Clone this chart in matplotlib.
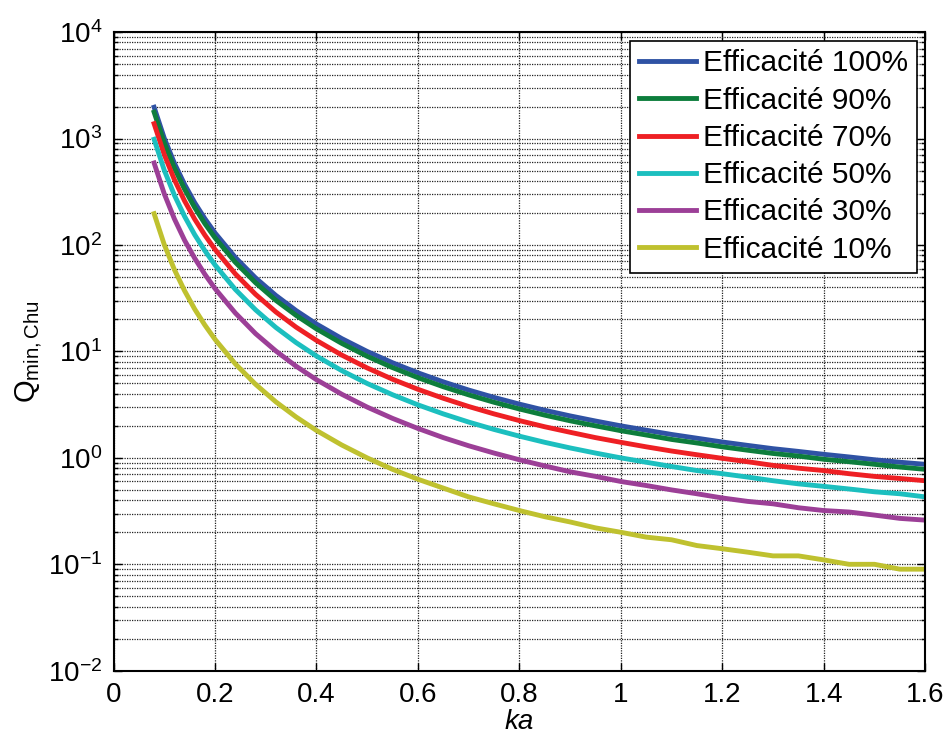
import math
import matplotlib
matplotlib.use("Agg")
import matplotlib.pyplot as plt
from matplotlib.ticker import LogLocator, FixedLocator, FuncFormatter, NullFormatter

plt.rcParams['font.family'] = ['Liberation Sans', 'DejaVu Sans']
plt.rcParams['mathtext.fontset'] = 'custom'
plt.rcParams['mathtext.rm'] = 'Liberation Sans'
plt.rcParams['mathtext.it'] = 'Liberation Sans:italic'
plt.rcParams['mathtext.bf'] = 'Liberation Sans:bold'

ka = [0.08, 0.10, 0.12, 0.14, 0.16, 0.18, 0.20, 0.24, 0.28, 0.32, 0.36, 0.40,
      0.45, 0.50, 0.55, 0.60, 0.65, 0.70, 0.75, 0.80, 0.85, 0.90, 0.95, 1.00,
      1.05, 1.10, 1.15, 1.20, 1.25, 1.30, 1.35, 1.40, 1.45, 1.50, 1.55, 1.60]

q100 = [1970, 1010, 587, 372, 250, 177, 130, 76.5, 49.1, 33.6, 24.2, 18.1,
        13.2, 10.0, 7.83, 6.30, 5.18, 4.34, 3.70, 3.20, 2.80, 2.48, 2.22, 2.00,
        1.82, 1.66, 1.53, 1.41, 1.31, 1.22, 1.15, 1.08, 1.02, 0.96, 0.91, 0.87]
q90 = [1770, 909, 528, 335, 225, 159, 117, 68.9, 44.2, 30.2, 21.8, 16.3,
       11.9, 9.0, 7.05, 5.67, 4.66, 3.91, 3.33, 2.88, 2.52, 2.23, 2.00, 1.80,
       1.64, 1.49, 1.38, 1.27, 1.18, 1.10, 1.04, 0.97, 0.92, 0.87, 0.82, 0.78]
q70 = [1380, 707, 411, 260, 175, 124, 91, 53.6, 34.4, 23.5, 16.9, 12.7,
       9.24, 7.0, 5.48, 4.41, 3.63, 3.04, 2.59, 2.24, 1.96, 1.74, 1.55, 1.40,
       1.27, 1.16, 1.07, 0.99, 0.92, 0.85, 0.80, 0.76, 0.71, 0.67, 0.64, 0.61]
q50 = [985, 505, 294, 186, 125, 88.5, 65, 38.3, 24.6, 16.8, 12.1, 9.05,
       6.6, 5.0, 3.92, 3.15, 2.59, 2.17, 1.85, 1.60, 1.40, 1.24, 1.11, 1.00,
       0.91, 0.83, 0.76, 0.71, 0.66, 0.61, 0.57, 0.54, 0.51, 0.48, 0.46, 0.43]
q30 = [590, 303, 176, 111, 75.1, 53.1, 39, 23.0, 14.7, 10.1, 7.26, 5.43,
       3.96, 3.0, 2.35, 1.89, 1.55, 1.30, 1.11, 0.96, 0.84, 0.74, 0.67, 0.60,
       0.55, 0.50, 0.46, 0.42, 0.39, 0.37, 0.34, 0.32, 0.31, 0.29, 0.27, 0.26]
q10 = [197, 101, 58.7, 37.2, 25.0, 17.7, 13.0, 7.65, 4.91, 3.36, 2.42, 1.81,
       1.32, 1.00, 0.78, 0.63, 0.52, 0.43, 0.37, 0.32, 0.28, 0.25, 0.22, 0.20,
       0.18, 0.17, 0.15, 0.14, 0.13, 0.12, 0.12, 0.11, 0.10, 0.10, 0.09, 0.09]

labels = ["Efficacité 100%", "Efficacité 90%", "Efficacité 70%",
          "Efficacité 50%", "Efficacité 30%", "Efficacité 10%"]
series = [q100, q90, q70, q50, q30, q10]
colors = ["#2f52a4", "#0d7d3c", "#ee2024", "#1cbfbf", "#9c3f97", "#bfc12f"]

xticks = [0, 0.2, 0.4, 0.6, 0.8, 1.0, 1.2, 1.4, 1.6]

fig = plt.figure(figsize=(9.46, 7.34), dpi=100)
ax = fig.add_axes([0.120, 0.0862, 0.858, 0.870])

for y, c, lab in zip(series, colors, labels):
    ax.plot(ka, y, color=c, lw=3.5, label=lab, solid_joinstyle='round')

ax.set_yscale('log')
ax.set_xlim(0, 1.6)
ax.set_ylim(1e-2, 1e4)
ax.xaxis.set_major_locator(FixedLocator(xticks))
ax.xaxis.set_major_formatter(FuncFormatter(lambda v, p: '%g' % v))
ax.yaxis.set_major_locator(LogLocator(base=10, numticks=20))
ax.yaxis.set_minor_locator(LogLocator(base=10, subs=range(2, 10), numticks=20))
ax.yaxis.set_minor_formatter(NullFormatter())
ax.yaxis.set_major_formatter(FuncFormatter(
    lambda v, p: r'$\mathregular{10^{%d}}$' % round(math.log10(v))))
ax.xaxis.offsetText.set_visible(False)
ax.yaxis.offsetText.set_visible(False)

gstyle = dict(color='#222222', linestyle=(0, (1, 1)), linewidth=0.9)
ax.grid(True, which='major', axis='both', **gstyle)
ax.grid(True, which='minor', axis='y', **gstyle)

ax.tick_params(which='both', direction='in', top=True, right=True,
               labelsize=20, width=1.0)
ax.tick_params(which='major', length=6, pad=8)
ax.tick_params(which='minor', length=3)
for s in ax.spines.values():
    s.set_linewidth(1.5)

ax.set_xlabel('ka', fontsize=20, style='italic', labelpad=1)
ax.set_ylabel(r'$\mathregular{Q_{min,Chu}}$', fontsize=21, labelpad=2)

leg = ax.legend(loc='upper right', fontsize=21.5, frameon=True, fancybox=False,
                edgecolor='black', framealpha=1, handlelength=1.9,
                handletextpad=0.22, labelspacing=0.31, borderpad=0.3,
                borderaxespad=0.28)
leg.get_frame().set_linewidth(1.2)

fig.savefig('out.png', dpi=100)
